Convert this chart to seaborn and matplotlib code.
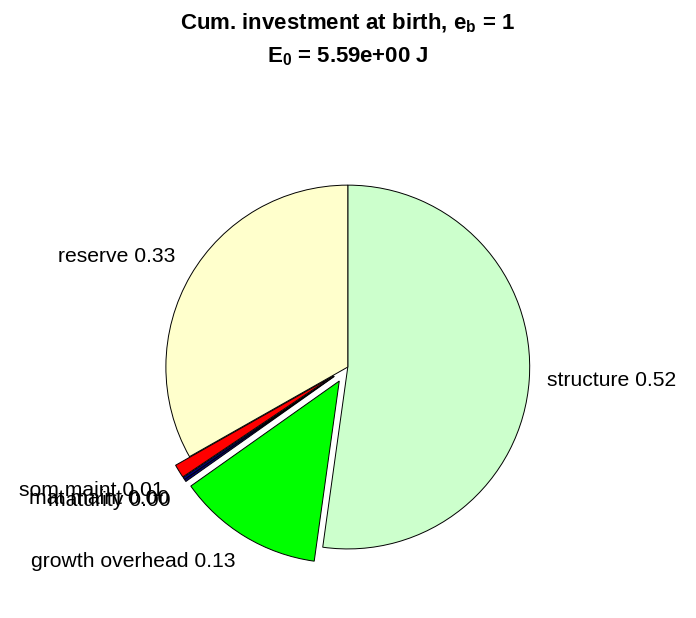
import matplotlib
matplotlib.use("Agg")
import matplotlib.pyplot as plt
import seaborn as sns

# Cumulative investment fractions at birth
names = ["structure", "growth overhead", "maturity", "mat maint", "som maint", "reserve"]
fractions = [0.522, 0.130, 0.002, 0.002, 0.012, 0.332]
colors = ["#CCFFCC", "#00FF00", "#000080", "#00008B", "#FF0000", "#FFFFCC"]
explode = [0, 0.09, 0.09, 0.09, 0.09, 0]

E0 = 5.59
e_b = 1

sns.set_style("white")
plt.rcParams["font.family"] = ["Liberation Sans", "DejaVu Sans"]
plt.rcParams["text.color"] = "black"
plt.rcParams["mathtext.fontset"] = "custom"
plt.rcParams["mathtext.rm"] = "Liberation Sans:bold"
plt.rcParams["mathtext.it"] = "Liberation Sans:bold"
plt.rcParams["mathtext.bf"] = "Liberation Sans:bold"

labels = [f"{n} {v:.2f}" for n, v in zip(names, fractions)]

fig = plt.figure(figsize=(6.96, 6.18), dpi=100)
ax = fig.add_axes([0.0162, 0.0086, 0.967, 0.795])
wedges, texts = ax.pie(fractions, labels=labels, colors=colors, explode=explode,
                       startangle=90, counterclock=False, labeldistance=1.1,
                       wedgeprops=dict(edgecolor="black", linewidth=0.7),
                       textprops=dict(fontsize=15.2, color="black"))
# matlab-like vertical alignment of the labels
for t in texts:
    y = t.get_position()[1]
    if y > 0.3:
        t.set_va("bottom")
    elif y < -0.3:
        t.set_va("top")
ax.set_xlim(-1.85, 1.85)
ax.set_ylim(-1.35, 1.35)
ax.set_aspect("equal")
ax.axis("off")

fig.text(0.5, 0.962, r"Cum. investment at birth, $\mathrm{e_b}$ = " + f"{e_b}",
         ha="center", va="center", fontsize=16, fontweight="bold", color="black")
fig.text(0.5, 0.908, r"$\mathrm{E_0}$ = " + f"{E0:.2e} J",
         ha="center", va="center", fontsize=16, fontweight="bold", color="black")

fig.savefig("out.png", dpi=100)
